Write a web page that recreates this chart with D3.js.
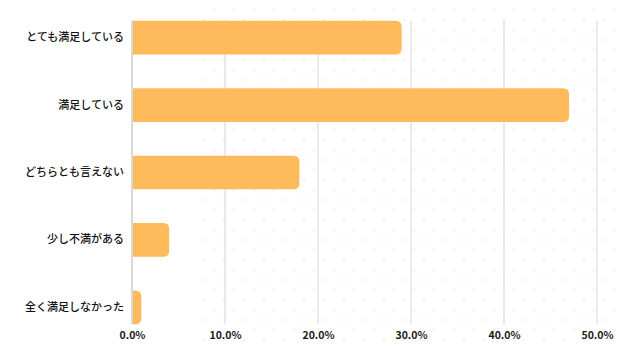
<!DOCTYPE html>
<html><head><meta charset="utf-8">
<script src="https://cdn.jsdelivr.net/npm/d3@7"></script>
<style>body{margin:0;background:#fff}svg{display:block}</style>
</head><body><svg id="c" width="640" height="360"></svg>
<script>
const categories = ["とても満足している","満足している","どちらとも言えない","少し不満がある","全く満足しなかった"];
const values = [29.0, 47.0, 18.0, 4.0, 1.0];
const tickValues = [0,10,20,30,40,50];

const svg = d3.select("#c");
const defs = svg.append("defs");
const pat = defs.append("pattern").attr("id","dots").attr("patternUnits","userSpaceOnUse")
  .attr("width",20).attr("height",20).attr("x",4).attr("y",0);
[[0,0],[20,0],[0,20],[20,20],[10,10]].forEach(p=>
  pat.append("circle").attr("cx",p[0]).attr("cy",p[1]).attr("r",1.3).attr("fill","#fdf1df"));
svg.append("rect").attr("x",200).attr("y",5).attr("width",415).attr("height",342).attr("fill","url(#dots)");

const x = d3.scaleLinear().domain([0,50]).range([132,597]);
const y = d3.scaleBand().domain(categories).range([4,341]).paddingInner(0.5).paddingOuter(0.25);

const yTop = y(categories[0]), yBot = y(categories[categories.length-1]) + y.bandwidth();

svg.append("g").selectAll("line").data(tickValues.slice(1)).join("line")
  .attr("x1",d=>x(d)).attr("x2",d=>x(d)).attr("y1",yTop).attr("y2",yBot)
  .attr("stroke","#e3e3e3").attr("stroke-width",1.5);

const r = 6;
svg.append("g").selectAll("path").data(values).join("path")
  .attr("fill","#ffbb5b")
  .attr("d",(d,i)=>{
    const x0 = x(0), x1 = x(d), y0 = y(categories[i]), h = y.bandwidth();
    const rr = Math.min(r, (x1-x0));
    return `M${x0},${y0}H${x1-rr}Q${x1},${y0} ${x1},${y0+rr}V${y0+h-rr}Q${x1},${y0+h} ${x1-rr},${y0+h}H${x0}Z`;
  });

svg.append("line").attr("x1",x(0)).attr("x2",x(0)).attr("y1",yTop).attr("y2",yBot)
  .attr("stroke","#d9d9d9").attr("stroke-width",2);

const xa = d3.axisBottom(x).tickValues(tickValues).tickFormat(d=>d.toFixed(1)+"%").tickSize(0);
svg.append("g").attr("transform",`translate(0,${yBot+4})`).call(xa)
  .call(g=>g.select(".domain").remove())
  .selectAll("text").attr("font-family","'Noto Sans CJK JP','Noto Sans',sans-serif")
  .attr("font-size",10.5).attr("font-weight","bold").attr("fill","#1a1a1a");

const ya = d3.axisLeft(y).tickSize(0).tickPadding(8);
svg.append("g").attr("transform",`translate(${x(0)},0)`).call(ya)
  .call(g=>g.select(".domain").remove())
  .selectAll("text").attr("font-family","'Noto Sans CJK JP',sans-serif")
  .attr("font-size",11).attr("font-weight",500).attr("fill","#111");
</script></body></html>
